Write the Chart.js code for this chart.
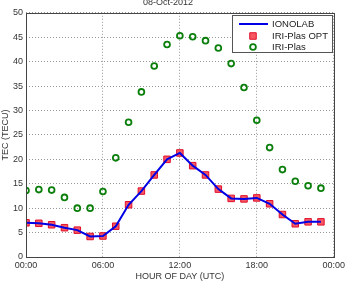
<!DOCTYPE html>
<html>
<head>
<meta charset="utf-8">
<script src="https://cdn.jsdelivr.net/npm/chart.js@4/dist/chart.umd.min.js"></script>
<style>
    html, body { margin: 0; padding: 0; background: #fff; }
</style>
</head>
<body>
<canvas id="chartTec" width="348" height="282"></canvas>
<script>
var horas = [0, 1, 2, 3, 4, 5, 6, 7, 8, 9, 10, 11, 12, 13, 14, 15, 16, 17, 18, 19, 20, 21, 22, 23];
var dadosIonolab = [7.0, 6.9, 6.6, 6.0, 5.5, 4.2, 4.3, 6.3, 10.7, 13.5, 16.8, 20.0, 21.3, 18.7, 16.8, 13.9, 12.0, 11.9, 12.1, 10.9, 8.7, 6.8, 7.2, 7.2];
var dadosIriPlasOpt = [7.0, 6.9, 6.6, 6.0, 5.5, 4.2, 4.3, 6.3, 10.7, 13.5, 16.8, 20.0, 21.3, 18.7, 16.8, 13.9, 12.0, 11.9, 12.1, 10.9, 8.7, 6.8, 7.2, 7.2];
var dadosIriPlas = [13.6, 13.8, 13.7, 12.2, 10.0, 10.0, 13.4, 20.3, 27.6, 33.8, 39.1, 43.5, 45.3, 45.1, 44.3, 42.8, 39.6, 34.7, 28.0, 22.4, 17.9, 15.5, 14.6, 14.1];
var ticksX = [0, 6, 12, 18, 24];

function pontos(valores) {
    return horas.map(function (h, i) { return { x: h, y: valores[i] }; });
}

var fonte = { family: "'Liberation Sans', Arial, sans-serif", size: 9 };
var corTexto = '#333';

// caixa em volta da area do grafico + legenda no canto
var pluginMoldura = {
    id: 'moldura',
    afterDatasetsDraw: function (chart) {
        var ctx = chart.ctx;
        var a = chart.chartArea;
        ctx.save();
        ctx.strokeStyle = '#444';
        ctx.lineWidth = 1;
        ctx.strokeRect(Math.round(a.left) + 0.5, Math.round(a.top) + 0.5, Math.round(a.right - a.left), Math.round(a.bottom - a.top));

        // legenda
        var bx = 232, by = 15, bw = 100, bh = 37;
        ctx.fillStyle = '#fff';
        ctx.fillRect(bx, by, bw, bh);
        ctx.strokeStyle = '#555';
        ctx.strokeRect(bx + 0.5, by + 0.5, bw, bh);
        ctx.font = "9.5px 'Liberation Sans', Arial, sans-serif";
        ctx.textBaseline = 'middle';
        var linhas = [24, 36, 47];
        chart.data.datasets.forEach(function (ds, i) {
            var y = linhas[i];
            if (ds.showLine) {
                ctx.strokeStyle = ds.borderColor;
                ctx.lineWidth = ds.borderWidth;
                ctx.beginPath();
                ctx.moveTo(239, y);
                ctx.lineTo(268, y);
                ctx.stroke();
            } else {
                ctx.fillStyle = ds.pointBackgroundColor;
                ctx.strokeStyle = ds.pointBorderColor;
                ctx.lineWidth = ds.pointBorderWidth;
                ctx.beginPath();
                if (ds.pointStyle === 'rect') {
                    var s = ds.pointRadius * Math.SQRT1_2;
                    ctx.rect(253 - s, y - s, 2 * s, 2 * s);
                    ctx.fill();
                } else {
                    ctx.arc(253, y, ds.pointRadius, 0, Math.PI * 2);
                }
                ctx.stroke();
            }
            ctx.fillStyle = '#222';
            ctx.fillText(ds.label, 272, y);
        });
        ctx.restore();
    }
};

const dataTec = {
    datasets: [{
        label: 'IONOLAB',
        data: pontos(dadosIonolab),
        showLine: true,
        borderColor: '#0000e6',
        borderWidth: 2,
        pointRadius: 0
    }, {
        label: 'IRI-Plas OPT',
        data: pontos(dadosIriPlasOpt),
        showLine: false,
        pointStyle: 'rect',
        pointRadius: 4.6,
        pointBorderWidth: 1,
        pointBackgroundColor: 'rgba(245, 60, 70, 0.85)',
        pointBorderColor: '#e0102a'
    }, {
        label: 'IRI-Plas',
        data: pontos(dadosIriPlas),
        showLine: false,
        pointStyle: 'circle',
        pointRadius: 2.9,
        pointBorderWidth: 1.8,
        pointBackgroundColor: 'rgba(0,0,0,0)',
        pointBorderColor: '#0b7f0b'
    }]
};

const configTec = {
    type: 'scatter',
    data: dataTec,
    plugins: [pluginMoldura],
    options: {
        responsive: false,
        animation: false,
        layout: { padding: { left: 0, right: 12, top: 0, bottom: 0 } },
        plugins: {
            legend: { display: false },
            tooltip: { enabled: false },
            title: {
                display: true,
                text: '08-Oct-2012',
                color: corTexto,
                font: { family: fonte.family, size: 9, weight: 'normal' },
                padding: { top: -3, bottom: 5 }
            }
        },
        scales: {
            x: {
                type: 'linear',
                min: 0,
                max: 24,
                afterBuildTicks: function (scale) {
                    scale.ticks = ticksX.map(function (v) { return { value: v }; });
                },
                afterFit: function (scale) { scale.height = 25; },
                ticks: {
                    color: corTexto,
                    font: fonte,
                    padding: 3,
                    maxRotation: 0,
                    callback: function (v) {
                        var h = v % 24;
                        return (h < 10 ? '0' : '') + h + ':00';
                    }
                },
                grid: { color: '#9a9a9a', lineWidth: 1, drawTicks: false },
                border: { display: false, dash: [1, 2] },
                title: {
                    display: true,
                    text: 'HOUR OF DAY (UTC)',
                    color: corTexto,
                    font: fonte,
                    padding: 0
                }
            },
            y: {
                min: 0,
                max: 50,
                afterFit: function (scale) { scale.width = 26; },
                ticks: {
                    stepSize: 5,
                    color: corTexto,
                    font: fonte,
                    padding: 3
                },
                grid: { color: '#9a9a9a', lineWidth: 1, drawTicks: false },
                border: { display: false, dash: [1, 2] },
                title: {
                    display: true,
                    text: 'TEC (TECU)',
                    color: corTexto,
                    font: fonte,
                    padding: 0
                }
            }
        }
    }
};

const chartTec = new Chart(
    document.getElementById('chartTec'),
    configTec
);
</script>
</body>
</html>
